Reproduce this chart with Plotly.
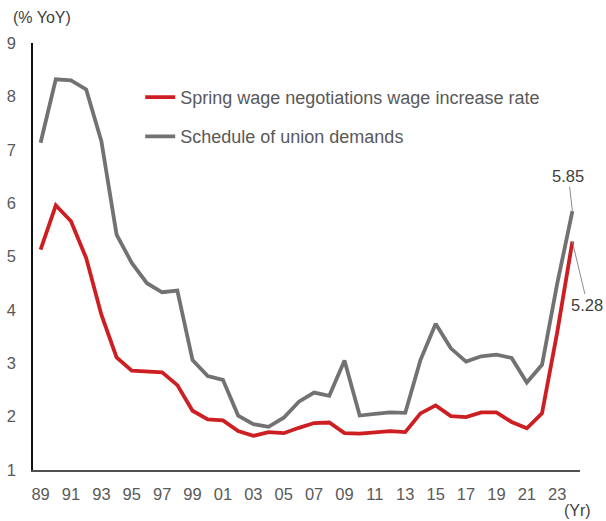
import plotly.graph_objects as go

years = list(range(1989, 2025))
wage_increase = [5.13, 5.96, 5.66, 4.97, 3.91, 3.11, 2.86, 2.84, 2.83, 2.59,
                 2.11, 1.95, 1.93, 1.73, 1.64, 1.71, 1.69, 1.79, 1.88, 1.89,
                 1.69, 1.68, 1.71, 1.73, 1.71, 2.06, 2.21, 2.01, 1.99, 2.08,
                 2.08, 1.90, 1.78, 2.06, 3.58, 5.28]
union_demands = [7.13, 8.32, 8.30, 8.13, 7.16, 5.41, 4.88, 4.50, 4.33, 4.36,
                 3.06, 2.76, 2.69, 2.02, 1.86, 1.81, 1.98, 2.28, 2.45, 2.39,
                 3.05, 2.02, 2.05, 2.08, 2.07, 3.06, 3.74, 3.28, 3.03, 3.13,
                 3.16, 3.10, 2.64, 2.97, 4.49, 5.85]
tick_years = list(range(1989, 2024, 2))
tick_text = [f"{y % 100:02d}" for y in tick_years]
y_ticks = list(range(1, 10))

RED = "#CD1E22"
GRAY = "#727272"
TXT = "#595959"
FONT = "Liberation Sans, Arial, sans-serif"

fig = go.Figure()
fig.add_trace(go.Scatter(x=years, y=wage_increase, mode="lines",
                         name="Spring wage negotiations wage increase rate",
                         legendgroup="a",
                         line=dict(color=RED, width=3.8)))
fig.add_trace(go.Scatter(x=years, y=union_demands, mode="lines",
                         name="Schedule of union demands",
                         legendgroup="b",
                         line=dict(color=GRAY, width=3.8)))

fig.add_annotation(x=years[-1], y=union_demands[-1], text=f"{union_demands[-1]:.2f}",
                   showarrow=True, arrowhead=0, arrowwidth=1, arrowcolor="#8c8c8c",
                   ax=-4, ay=-35, standoff=0, font=dict(size=16.5, color="#404040"))
fig.add_annotation(x=years[-1], y=wage_increase[-1], text=f"{wage_increase[-1]:.2f}",
                   showarrow=True, arrowhead=0, arrowwidth=1, arrowcolor="#8c8c8c",
                   ax=15, ay=63, standoff=0, font=dict(size=16.5, color="#404040"))
fig.add_annotation(xref="paper", yref="paper", x=-0.04, y=1.0, yshift=26,
                   text="(% YoY)", showarrow=False, xanchor="left", yanchor="middle",
                   font=dict(size=16, color="#404040"))
fig.add_annotation(xref="paper", yref="paper", x=1.0, y=0, yshift=-40, xshift=-3,
                   text="(Yr)", showarrow=False, xanchor="center", yanchor="middle",
                   font=dict(size=16, color="#404040"))

fig.update_layout(
    width=606, height=521,
    margin=dict(l=33, r=26, t=43, b=51, autoexpand=False),
    paper_bgcolor="white", plot_bgcolor="white",
    font=dict(family=FONT, size=16, color=TXT),
    showlegend=True,
    legend=dict(x=0.196, y=0.916, xanchor="left", yanchor="top",
                bgcolor="rgba(0,0,0,0)", font=dict(size=18, color=TXT),
                tracegroupgap=13, itemwidth=30),
    xaxis=dict(range=[1988.5, 2024.5], tickvals=tick_years, ticktext=tick_text,
               showgrid=False, zeroline=False, showline=True, linecolor="#505050",
               linewidth=1.5, ticks="", ticklabelstandoff=8, automargin=False,
               tickfont=dict(size=16.5, color=TXT)),
    yaxis=dict(range=[1, 9], tickvals=y_ticks, showgrid=False, zeroline=False,
               showline=True, linecolor="#111111", linewidth=1.5, ticks="",
               ticklabelstandoff=12, automargin=False,
               tickfont=dict(size=16.5, color=TXT)),
)

fig.write_html("out.html", config={"displayModeBar": False},
               post_script="document.body.style.margin='0';")
